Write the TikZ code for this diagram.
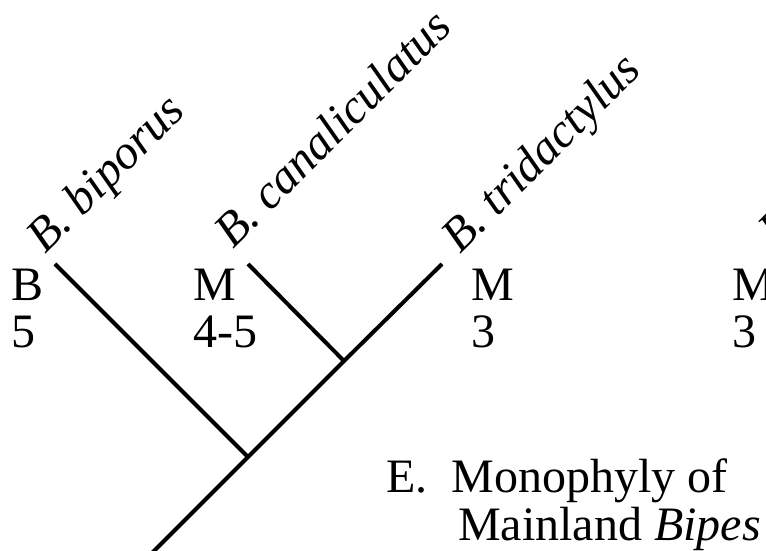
\documentclass[tikz,border=0pt]{standalone}
\usepackage{fontspec}
\setmainfont{Liberation Serif}
\newcommand{\labsize}{\fontsize{48}{47}\selectfont}
\newcommand{\stacked}[2]{\begin{tabular}[t]{@{}l@{}}#1\\#2\end{tabular}}
\begin{document}
\begin{tikzpicture}[
  x=1pt, y=1pt,
  every node/.style={inner sep=0pt, font=\labsize},
  branch/.style={line width=4pt},
  taxon/.style={rotate=45, anchor=base west, font=\labsize\itshape},
  state/.style={anchor=base west}
]
\useasboundingbox (0,0) rectangle (766,551);
\clip (0,0) rectangle (766,551);

% =======================
% Tree
% =======================
\coordinate (root) at (148,-6);
\coordinate (n1) at (248,94);
\coordinate (n2) at (344,190);

\coordinate (tBip) at (55,287);
\coordinate (tCan) at (248,287);
\coordinate (tTri) at (442,287);

\draw[branch] (root) -- (n1) -- (n2) -- (tTri);
\draw[branch] (n1) -- (tBip);
\draw[branch] (n2) -- (tCan);

% =======================
% Taxon names
% =======================
\node[taxon] (nBip) at (45,296) {B. biporus};
\node[taxon] (nCan) at (233,301) {B. canaliculatus};
\node[taxon] (nTri) at (460,296) {B. tridactylus};
\node[taxon] (nNext) at (777,303) {B};

% Character states
\node[state] (sBip) at (11,250) {\stacked{B}{5}};
\node[state] (sCan) at (193,250) {\stacked{M}{4-5}};
\node[state] (sTri) at (471,250) {\stacked{M}{3}};
\node[state] (sNext) at (732,250) {\stacked{M}{3}};

% =======================
% Caption
% =======================
\node[state] (caption) at (386,58)
  {\stacked{E.\hspace{24pt}Monophyly of}{\hspace*{72pt}Mainland \textit{Bipes}}};
\end{tikzpicture}
\end{document}
